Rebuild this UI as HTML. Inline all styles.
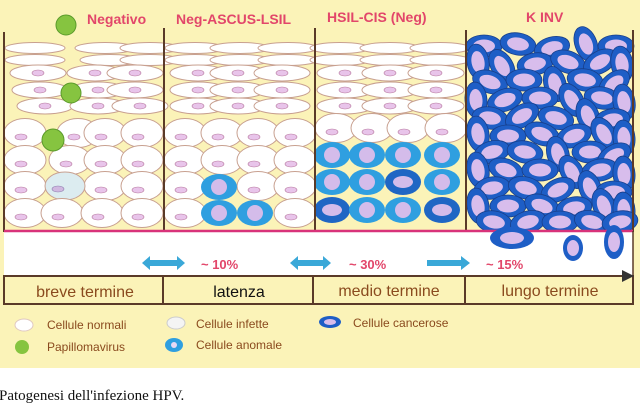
<!DOCTYPE html>
<html><head><meta charset="utf-8"><style>
html,body{margin:0;padding:0;background:#fff;width:640px;height:405px;overflow:hidden}
svg{display:block}
</style></head><body>
<svg width="640" height="405" viewBox="0 0 640 405" xmlns="http://www.w3.org/2000/svg">
<defs>
<g id="f"><ellipse rx="30" ry="5.5" fill="#fff" stroke="#c8a090" stroke-width="1"/></g>
<g id="n"><ellipse rx="28" ry="8" fill="#fff" stroke="#c8a090" stroke-width="1"/><ellipse rx="6" ry="3" fill="#e8c4ea" stroke="#b87aa0" stroke-width=".6"/></g>
<g id="r"><ellipse rx="21" ry="14.5" fill="#fff" stroke="#c8a090" stroke-width="1"/><ellipse cx="-4" cy="4" rx="6" ry="3" fill="#e8c4ea" stroke="#b87aa0" stroke-width=".6"/></g>
<g id="a"><ellipse rx="18" ry="13" fill="#2f9fe0"/><circle r="8" fill="#d4bcea"/></g>
<g id="a2"><ellipse rx="18" ry="13" fill="#1f66c4"/><ellipse rx="10" ry="6" fill="#d4bcea"/></g>
<g id="k"><ellipse rx="18" ry="11" fill="#1e5ec6" stroke="#183f8a" stroke-width=".8"/><ellipse rx="11" ry="6.5" fill="#d8bdec"/></g>
</defs>
<rect x="0" y="0" width="640" height="368" fill="#fbf3b8"/>
<g font-family="Liberation Sans, sans-serif" font-weight="bold" font-size="14" fill="#e2466a">
<text x="87" y="24">Negativo</text>
<text x="176" y="24">Neg-ASCUS-LSIL</text>
<text x="327" y="22">HSIL-CIS (Neg)</text>
<text x="526" y="22">K INV</text>
</g>
<use href="#f" x="35" y="48"/><use href="#f" x="105" y="48"/><use href="#f" x="150" y="48"/>
<use href="#f" x="35" y="60"/><use href="#f" x="110" y="60"/><use href="#f" x="150" y="60"/>
<use href="#n" x="38" y="73"/><use href="#n" x="95" y="73"/><use href="#n" x="135" y="73"/>
<use href="#n" x="40" y="90"/><use href="#n" x="98" y="90"/><use href="#n" x="135" y="90"/>
<use href="#n" x="45" y="106"/><use href="#n" x="98" y="106"/><use href="#n" x="140" y="106"/>
<use href="#r" x="25" y="133"/><use href="#r" x="78" y="133"/><use href="#r" x="105" y="133"/><use href="#r" x="142" y="133"/>
<use href="#r" x="25" y="160"/><use href="#r" x="70" y="160"/><use href="#r" x="105" y="160"/><use href="#r" x="142" y="160"/>
<use href="#r" x="25" y="186"/><use href="#r" x="105" y="186"/><use href="#r" x="142" y="186"/>
<ellipse cx="65" cy="186" rx="20" ry="14" fill="#dcecf0" stroke="#c8a090"/><ellipse cx="58" cy="189" rx="6" ry="3" fill="#d0b8e0" stroke="#9080b0" stroke-width=".6"/>
<use href="#r" x="25" y="213"/><use href="#r" x="62" y="213"/><use href="#r" x="102" y="213"/><use href="#r" x="142" y="213"/>
<circle cx="66" cy="25" r="10" fill="#86c440" stroke="#5a9a2a"/>
<circle cx="71" cy="93" r="10" fill="#86c440" stroke="#5a9a2a"/>
<circle cx="53" cy="140" r="11" fill="#86c440" stroke="#5a9a2a"/>
<use href="#f" x="195" y="48"/><use href="#f" x="240" y="48"/><use href="#f" x="288" y="48"/>
<use href="#f" x="195" y="60"/><use href="#f" x="240" y="60"/><use href="#f" x="288" y="60"/>
<use href="#n" x="198" y="73"/><use href="#n" x="238" y="73"/><use href="#n" x="282" y="73"/>
<use href="#n" x="198" y="90"/><use href="#n" x="238" y="90"/><use href="#n" x="282" y="90"/>
<use href="#n" x="198" y="106"/><use href="#n" x="238" y="106"/><use href="#n" x="282" y="106"/>
<use href="#r" x="185" y="133"/><use href="#r" x="222" y="133"/><use href="#r" x="258" y="133"/><use href="#r" x="295" y="133"/>
<use href="#r" x="185" y="160"/><use href="#r" x="222" y="160"/><use href="#r" x="258" y="160"/><use href="#r" x="295" y="160"/>
<use href="#r" x="185" y="186"/><use href="#r" x="258" y="186"/><use href="#r" x="295" y="186"/>
<use href="#r" x="185" y="213"/><use href="#r" x="295" y="213"/>
<use href="#a" x="219" y="187"/><use href="#a" x="219" y="213"/><use href="#a" x="255" y="213"/>
<use href="#f" x="340" y="48"/><use href="#f" x="390" y="48"/><use href="#f" x="440" y="48"/>
<use href="#f" x="340" y="60"/><use href="#f" x="390" y="60"/><use href="#f" x="440" y="60"/>
<use href="#n" x="345" y="73"/><use href="#n" x="390" y="73"/><use href="#n" x="436" y="73"/>
<use href="#n" x="345" y="90"/><use href="#n" x="390" y="90"/><use href="#n" x="436" y="90"/>
<use href="#n" x="345" y="106"/><use href="#n" x="390" y="106"/><use href="#n" x="436" y="106"/>
<use href="#r" x="336" y="128"/><use href="#r" x="372" y="128"/><use href="#r" x="408" y="128"/><use href="#r" x="446" y="128"/>
<use href="#a" x="332" y="155"/><use href="#a" x="367" y="155"/><use href="#a" x="403" y="155"/><use href="#a" x="442" y="155"/>
<use href="#a" x="332" y="182"/><use href="#a" x="367" y="182"/><use href="#a2" x="403" y="182"/><use href="#a" x="442" y="182"/>
<use href="#a2" x="332" y="210"/><use href="#a" x="367" y="210"/><use href="#a" x="403" y="210"/><use href="#a2" x="442" y="210"/>
<g>
<use href="#k" transform="translate(484,46)"/><use href="#k" transform="translate(518,44) rotate(10)"/><use href="#k" transform="translate(552,48) rotate(-15)"/><use href="#k" transform="translate(586,44) rotate(70)"/><use href="#k" transform="translate(616,46)"/>
<use href="#k" transform="translate(478,62) rotate(80)"/><use href="#k" transform="translate(502,66) rotate(60)"/><use href="#k" transform="translate(535,64) rotate(-10)"/><use href="#k" transform="translate(568,62) rotate(20)"/><use href="#k" transform="translate(600,62) rotate(-30)"/><use href="#k" transform="translate(622,64) rotate(80)"/>
<use href="#k" transform="translate(490,82) rotate(20)"/><use href="#k" transform="translate(524,80)"/><use href="#k" transform="translate(555,84) rotate(75)"/><use href="#k" transform="translate(585,80) rotate(10)"/><use href="#k" transform="translate(614,84) rotate(-40)"/>
<use href="#k" transform="translate(476,100) rotate(85)"/><use href="#k" transform="translate(505,100) rotate(-20)"/><use href="#k" transform="translate(540,98)"/><use href="#k" transform="translate(572,100) rotate(60)"/><use href="#k" transform="translate(602,98) rotate(10)"/><use href="#k" transform="translate(624,102) rotate(80)"/>
<use href="#k" transform="translate(490,118) rotate(10)"/><use href="#k" transform="translate(522,116) rotate(-30)"/><use href="#k" transform="translate(556,118) rotate(15)"/><use href="#k" transform="translate(588,116) rotate(70)"/><use href="#k" transform="translate(612,120) rotate(-10)"/>
<use href="#k" transform="translate(478,134) rotate(80)"/><use href="#k" transform="translate(508,136)"/><use href="#k" transform="translate(542,134) rotate(20)"/><use href="#k" transform="translate(574,136) rotate(-20)"/><use href="#k" transform="translate(604,134) rotate(60)"/><use href="#k" transform="translate(624,138) rotate(85)"/>
<use href="#k" transform="translate(492,152) rotate(-15)"/><use href="#k" transform="translate(525,152) rotate(10)"/><use href="#k" transform="translate(558,154) rotate(75)"/><use href="#k" transform="translate(590,152)"/><use href="#k" transform="translate(614,156) rotate(-30)"/>
<use href="#k" transform="translate(478,170) rotate(80)"/><use href="#k" transform="translate(506,170) rotate(20)"/><use href="#k" transform="translate(540,170)"/><use href="#k" transform="translate(572,172) rotate(60)"/><use href="#k" transform="translate(600,170) rotate(-10)"/><use href="#k" transform="translate(624,174) rotate(85)"/>
<use href="#k" transform="translate(492,188) rotate(-10)"/><use href="#k" transform="translate(526,188) rotate(15)"/><use href="#k" transform="translate(558,190) rotate(-25)"/><use href="#k" transform="translate(590,188) rotate(70)"/><use href="#k" transform="translate(614,192)"/>
<use href="#k" transform="translate(478,206) rotate(80)"/><use href="#k" transform="translate(508,206)"/><use href="#k" transform="translate(542,206) rotate(20)"/><use href="#k" transform="translate(574,208) rotate(-10)"/><use href="#k" transform="translate(604,206) rotate(70)"/><use href="#k" transform="translate(624,210) rotate(85)"/>
<use href="#k" transform="translate(494,222) rotate(10)"/><use href="#k" transform="translate(528,222) rotate(-15)"/><use href="#k" transform="translate(560,222)"/><use href="#k" transform="translate(592,222) rotate(15)"/><use href="#k" transform="translate(620,222) rotate(-10)"/>
</g>
<g stroke="#5a3a28" stroke-width="2">
<line x1="4" y1="32" x2="4" y2="232"/><line x1="164" y1="28" x2="164" y2="232"/><line x1="315" y1="28" x2="315" y2="232"/><line x1="466" y1="30" x2="466" y2="232"/><line x1="633" y1="30" x2="633" y2="232"/>
</g>
<rect x="4" y="231" width="629" height="45" fill="#fff"/>
<line x1="4" y1="231" x2="633" y2="231" stroke="#d8337a" stroke-width="2.5"/>
<line x1="633" y1="231" x2="633" y2="276" stroke="#5a3a28" stroke-width="1.5"/>
<ellipse cx="512" cy="238" rx="22" ry="11" fill="#1e5ec6"/><ellipse cx="512" cy="238" rx="12" ry="6" fill="#d8bdec"/>
<ellipse cx="573" cy="248" rx="10" ry="13" fill="#1e5ec6"/><ellipse cx="573" cy="248" rx="6" ry="8" fill="#d8bdec"/>
<ellipse cx="614" cy="242" rx="10" ry="17" fill="#1e5ec6"/><ellipse cx="614" cy="242" rx="6" ry="10" fill="#d8bdec"/>
<g fill="#3aa8d8">
<polygon points="142,263 150,256 150,260 177,260 177,256 185,263 177,270 177,266 150,266 150,270"/>
<polygon points="290,263 298,256 298,260 323,260 323,256 331,263 323,270 323,266 298,266 298,270"/>
<polygon points="427,260 461,260 461,256 470,263 461,270 461,266 427,266"/>
</g>
<g font-family="Liberation Sans, sans-serif" font-weight="bold" font-size="13" fill="#e2466a">
<text x="201" y="269">~ 10%</text><text x="349" y="269">~ 30%</text><text x="486" y="269">~ 15%</text>
</g>
<rect x="4" y="276" width="629" height="28" fill="#fbf3b8" stroke="#5a3a28" stroke-width="2"/>
<polygon points="622,270 634,276 622,282" fill="#333"/>
<g stroke="#5a3a28" stroke-width="2"><line x1="163" y1="276" x2="163" y2="304"/><line x1="313" y1="276" x2="313" y2="304"/><line x1="465" y1="276" x2="465" y2="304"/></g>
<g font-family="Liberation Sans, sans-serif" font-size="16" fill="#8a4a1e" text-anchor="middle">
<text x="85" y="297">breve termine</text><text x="239" y="297" fill="#111">latenza</text><text x="389" y="296">medio termine</text><text x="550" y="296">lungo termine</text>
</g>
<ellipse cx="24" cy="325" rx="9" ry="6" fill="#fff" stroke="#e0c8c0"/>
<ellipse cx="176" cy="323" rx="9" ry="6" fill="#f4f4f4" stroke="#ccc"/>
<ellipse cx="330" cy="322" rx="11" ry="6" fill="#1e5ec6"/><ellipse cx="330" cy="322" rx="6" ry="3" fill="#d8bdec"/>
<circle cx="22" cy="347" r="7" fill="#86c440"/>
<ellipse cx="174" cy="345" rx="9" ry="7" fill="#2f9fe0"/><circle cx="174" cy="345" r="3" fill="#e8d8f4"/>
<g font-family="Liberation Sans, sans-serif" font-size="12" fill="#8a4a1e">
<text x="47" y="329">Cellule normali</text><text x="196" y="328">Cellule infette</text><text x="353" y="327">Cellule cancerose</text>
<text x="47" y="351">Papillomavirus</text><text x="196" y="349">Cellule anomale</text>
</g>
<text x="-1" y="400" font-family="Liberation Serif, serif" font-size="15" fill="#111">Patogenesi dell'infezione HPV.</text>
</svg>
</body></html>
